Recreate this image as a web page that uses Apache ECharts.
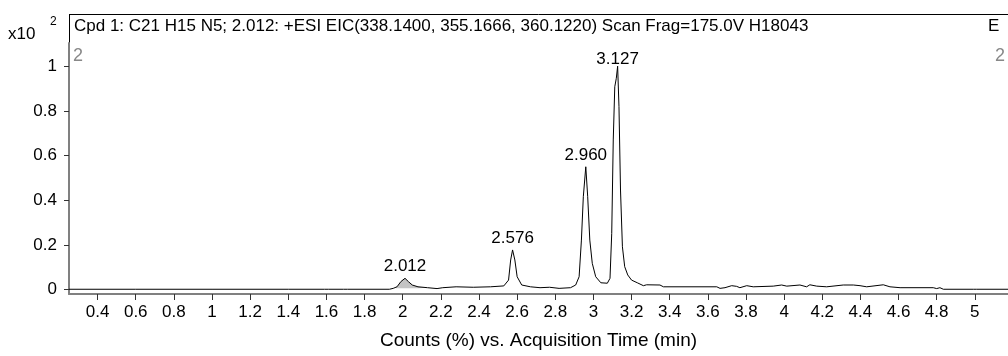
<!DOCTYPE html>
<html>
<head>
<meta charset="utf-8">
<script src="https://cdn.jsdelivr.net/npm/echarts@6/dist/echarts.min.js"></script>
<style>
html,body{margin:0;padding:0;background:#fff;}
#chart{width:1008px;height:356px;}
</style>
</head>
<body>
<div id="chart"></div>
<script>
// Chromatogram trace (acquisition time in min, counts x10^2)
const times = [0.25,0.60,1.00,1.40,1.59,1.60,1.61,1.69,1.70,1.71,1.93,1.95,1.97,1.99,2.012,2.03,2.05,2.08,2.13,2.18,2.21,2.28,2.37,2.46,2.53,2.555,2.566,2.576,2.588,2.60,2.624,2.67,2.72,2.77,2.82,2.88,2.907,2.925,2.937,2.947,2.960,2.970,2.981,2.994,3.012,3.039,3.073,3.087,3.096,3.104,3.112,3.120,3.127,3.134,3.142,3.152,3.164,3.180,3.20,3.23,3.262,3.279,3.349,3.367,3.647,3.664,3.690,3.725,3.751,3.768,3.804,3.838,3.943,3.987,4.014,4.083,4.118,4.135,4.171,4.223,4.310,4.363,4.398,4.433,4.520,4.555,4.608,4.782,4.800,4.817,4.835,4.992,5.000,5.010,5.174];
const counts = [0.002,0.002,0.002,0.002,0.002,0.005,0.002,0.002,0.004,0.002,0.002,0.006,0.013,0.036,0.051,0.036,0.021,0.013,0.009,0.005,0.009,0.013,0.011,0.013,0.017,0.043,0.133,0.178,0.133,0.058,0.021,0.013,0.009,0.011,0.006,0.009,0.021,0.058,0.222,0.416,0.550,0.416,0.222,0.118,0.058,0.031,0.029,0.051,0.252,0.670,0.908,0.946,1.000,0.819,0.446,0.192,0.103,0.066,0.043,0.031,0.018,0.022,0.021,0.013,0.013,0.006,0.009,0.018,0.015,0.009,0.018,0.013,0.016,0.021,0.016,0.021,0.013,0.022,0.016,0.013,0.021,0.021,0.018,0.013,0.022,0.013,0.009,0.009,0.005,0.009,0.002,0.002,0.006,0.002,0.002];
// Integrated (shaded) peak at 2.012
const shadedTimes = [1.965,1.97,1.99,2.012,2.03,2.05,2.08,2.13];
const shadedCounts = [0.008,0.013,0.036,0.051,0.036,0.021,0.013,0.009];
const shadedBase = 0.006;
// Labelled peaks
const peakTimes = [2.012,2.576,2.960,3.127];
const peakCounts = [0.051,0.178,0.550,1.000];
// Axis ticks
const xTicks = [0.4,0.6,0.8,1,1.2,1.4,1.6,1.8,2,2.2,2.4,2.6,2.8,3,3.2,3.4,3.6,3.8,4,4.2,4.4,4.6,4.8,5];
const yTicks = [0,0.2,0.4,0.6,0.8,1];
const titleText = 'Cpd 1: C21 H15 N5; 2.012: +ESI EIC(338.1400, 355.1666, 360.1220) Scan Frag=175.0V H18043';
const xName = 'Counts (%) vs. Acquisition Time (min)';

const FONT = '"Liberation Sans", Arial, sans-serif';
const chart = echarts.init(document.getElementById('chart'), null, {renderer:'canvas'});
const fmt = v => String(Math.round(v*10)/10);

chart.setOption({
  animation:false,
  backgroundColor:'#ffffff',
  textStyle:{fontFamily:FONT},
  grid:{left:69, right:0, top:43, bottom:62, containLabel:false},
  xAxis:{
    type:'value', min:0.25, max:5.174,
    axisLine:{show:true, onZero:false, lineStyle:{color:'#808080', width:2}},
    axisTick:{show:true, length:6, customValues:xTicks, lineStyle:{color:'#333', width:1}},
    axisLabel:{customValues:xTicks, formatter:fmt, color:'#000', fontSize:17, margin:10, fontFamily:FONT},
    splitLine:{show:false},
    name:xName, nameLocation:'middle', nameGap:37,
    nameTextStyle:{color:'#000', fontSize:19, fontFamily:FONT}
  },
  yAxis:{
    type:'value', min:-0.0192, max:1.1038,
    axisLine:{show:true, onZero:false, lineStyle:{color:'#808080', width:2}},
    axisTick:{show:true, length:5, customValues:yTicks, lineStyle:{color:'#333', width:1}},
    axisLabel:{customValues:yTicks, formatter:fmt, color:'#000', fontSize:17, margin:12, fontFamily:FONT},
    splitLine:{show:false}
  },
  graphic:[
    {type:'line', shape:{x1:69, y1:14.5, x2:1008, y2:14.5}, style:{stroke:'#000', lineWidth:1}, silent:true},
    {type:'line', shape:{x1:69.5, y1:14, x2:69.5, y2:43}, style:{stroke:'#000', lineWidth:1}, silent:true},
    {type:'text', left:74, top:18, style:{text:titleText, fontSize:17, fontFamily:FONT, fill:'#000'}},
    {type:'text', left:988, top:18, style:{text:'E', fontSize:17, fontFamily:FONT, fill:'#000'}},
    {type:'text', left:73, top:47, style:{text:'2', fontSize:18, fontFamily:FONT, fill:'#888'}},
    {type:'text', left:995, top:47, style:{text:'2', fontSize:18, fontFamily:FONT, fill:'#888'}},
    {type:'text', left:8, top:26, style:{text:'x10', fontSize:17, fontFamily:FONT, fill:'#000'}},
    {type:'text', left:50, top:16, style:{text:'2', fontSize:12, fontFamily:FONT, fill:'#000'}}
  ],
  series:[
    {
      type:'line', data:shadedTimes.map((t,i)=>[t, shadedCounts[i]]),
      showSymbol:false, symbol:'none', lineStyle:{width:0},
      areaStyle:{color:'#c4c4c4', opacity:1, origin:shadedBase},
      z:1, silent:true
    },
    {
      type:'line', data:times.map((t,i)=>[t, counts[i]]),
      showSymbol:false, symbol:'none',
      lineStyle:{color:'#000', width:1},
      z:2, silent:true,
      markPoint:{
        symbol:'circle', symbolSize:0,
        label:{show:true, position:'top', distance:3, color:'#000', fontSize:17, fontFamily:FONT,
               formatter:p=>p.value.toFixed(3)},
        data:peakTimes.map((t,i)=>({coord:[t, peakCounts[i]], value:t,
          label: i === peakTimes.length - 1 ? {offset:[0,5]} : undefined}))
      }
    }
  ]
});
</script>
</body>
</html>
